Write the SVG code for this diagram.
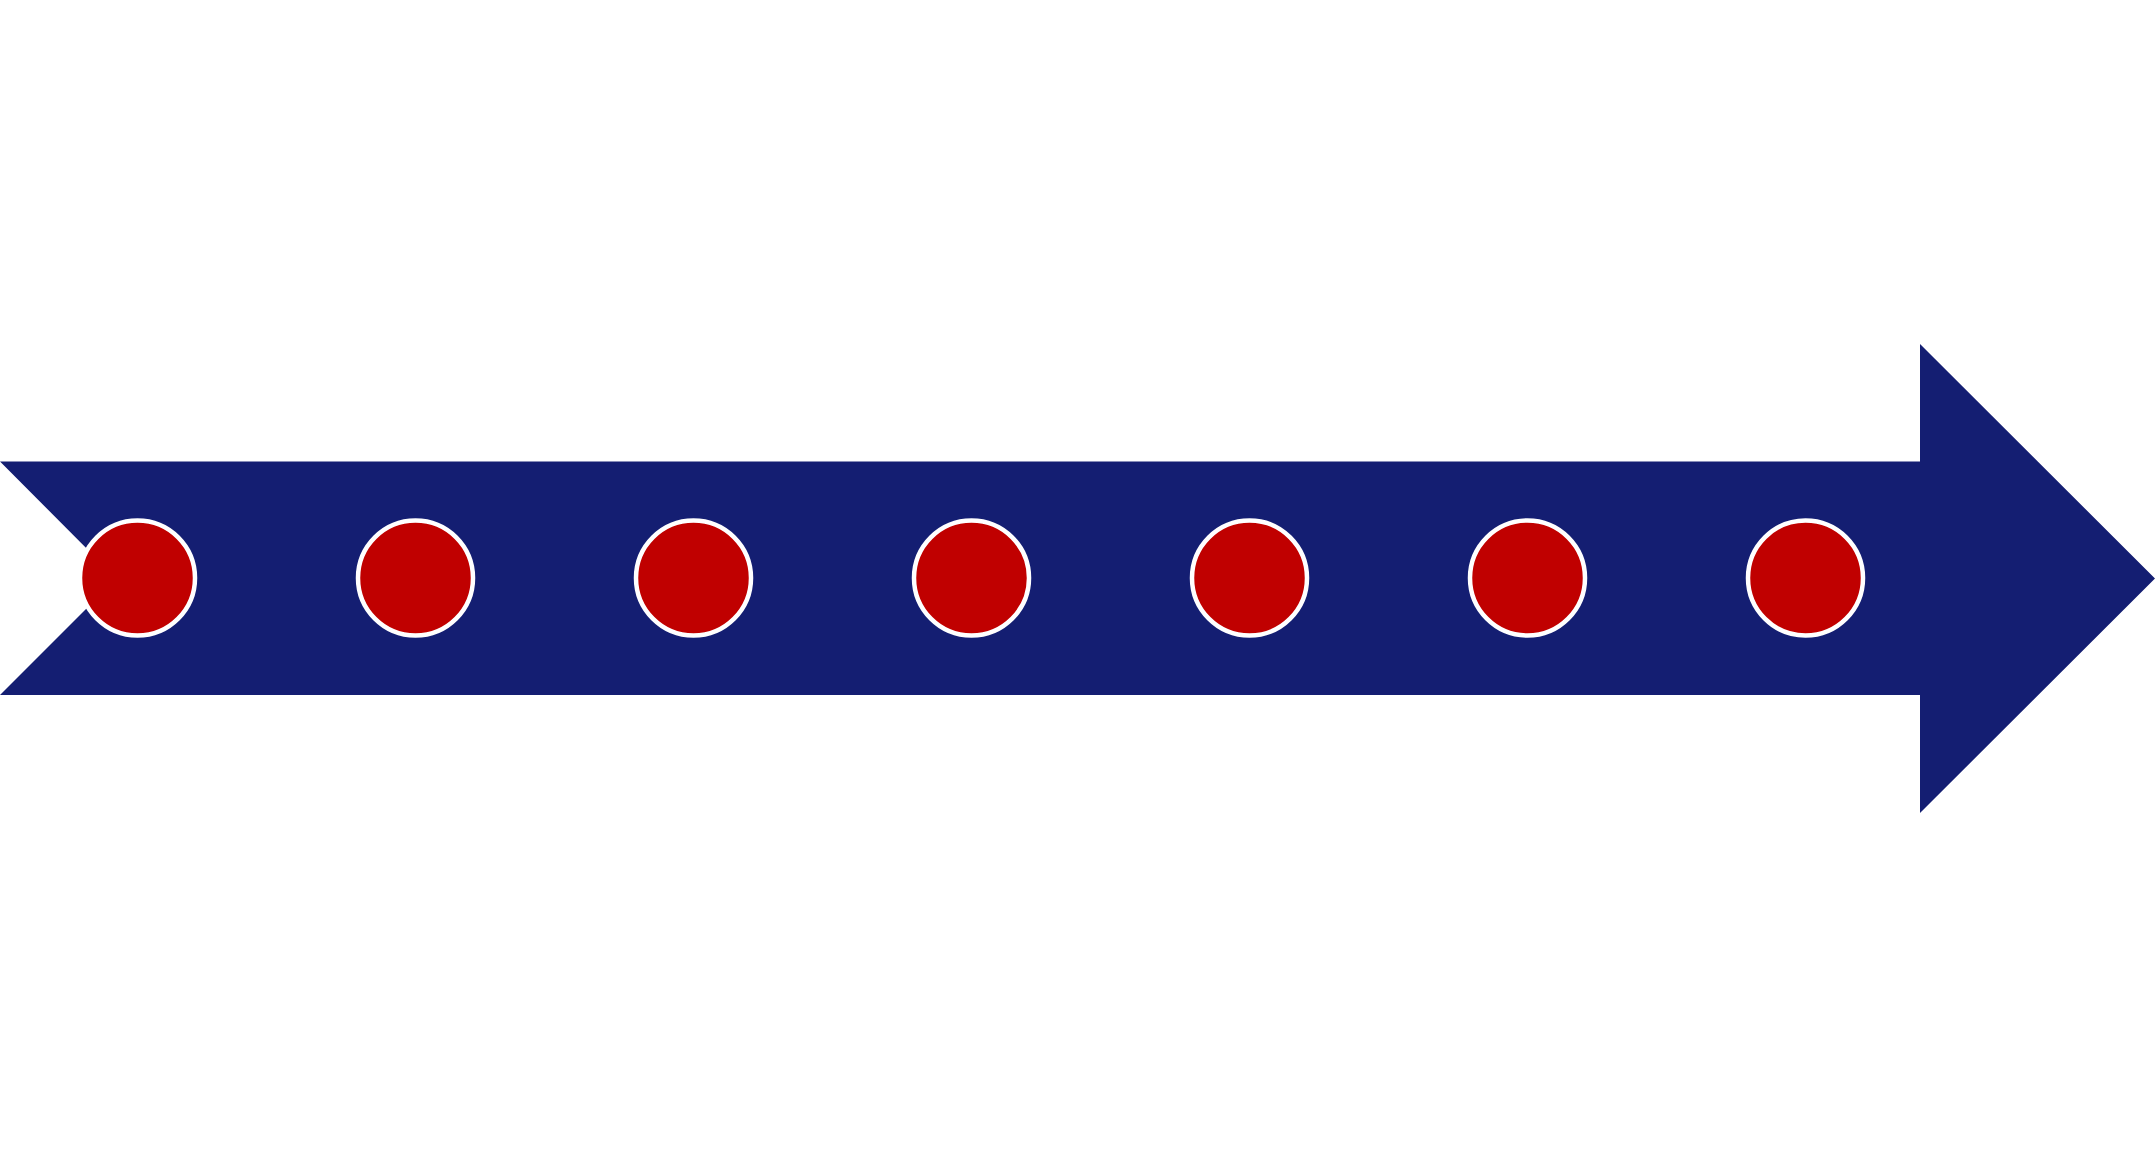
<svg xmlns="http://www.w3.org/2000/svg" width="2155" height="1155" viewBox="0 0 2155 1155">
<style>
.arrow{fill:#141E72}
.dot{fill:#C00000;stroke:#FFFFFF;stroke-width:4.5}
</style>
<rect width="2155" height="1155" fill="#FFFFFF"/>
<g id="arrow">
<path class="arrow" d="M0 461.5 L1920 461.5 L1920 344 L2155 578.5 L1920 813 L1920 695 L0 695 L116.5 578.5 Z"/>
</g>
<g id="connectors"></g>
<g id="dot1"><circle class="dot" cx="137.5" cy="578" r="57.5"/></g>
<g id="dot2"><circle class="dot" cx="415.5" cy="578" r="57.5"/></g>
<g id="dot3"><circle class="dot" cx="693.5" cy="578" r="57.5"/></g>
<g id="dot4"><circle class="dot" cx="971.5" cy="578" r="57.5"/></g>
<g id="dot5"><circle class="dot" cx="1249.5" cy="578" r="57.5"/></g>
<g id="dot6"><circle class="dot" cx="1527.5" cy="578" r="57.5"/></g>
<g id="dot7"><circle class="dot" cx="1805.5" cy="578" r="57.5"/></g>
</svg>
